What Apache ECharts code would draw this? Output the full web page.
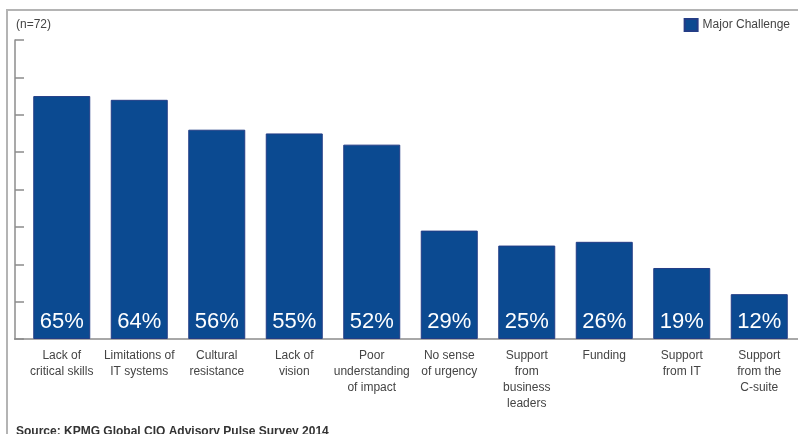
<!DOCTYPE html>
<html>
<head>
<meta charset="utf-8">
<script src="https://cdn.jsdelivr.net/npm/echarts@6/dist/echarts.min.js"></script>
<style>html,body{margin:0;padding:0;background:#fff;}#c{width:798px;height:434px;}</style>
</head>
<body>
<div id="c"></div>
<script>
var categories = ['Lack of\ncritical skills', 'Limitations of\nIT systems', 'Cultural\nresistance', 'Lack of\nvision', 'Poor\nunderstanding\nof impact', 'No sense\nof urgency', 'Support\nfrom\nbusiness\nleaders', 'Funding', 'Support\nfrom IT', 'Support\nfrom the\nC-suite'];
var majorChallenge = [65, 64, 56, 55, 52, 29, 25, 26, 19, 12];
var seriesName = 'Major Challenge';
var sampleNote = '(n=72)';
var sourceNote = 'Source: KPMG Global CIO Advisory Pulse Survey 2014';

var narrow = '"Liberation Sans Narrow", "Arial Narrow", "Liberation Sans", sans-serif';
var chart = echarts.init(document.getElementById('c'), null, {renderer: 'canvas'});
chart.setOption({
  animation: false,
  backgroundColor: '#ffffff',
  title: [
    {text: sampleNote, left: 11, top: 14, textStyle: {fontFamily: narrow, fontSize: 12, fontWeight: 'normal', color: '#444'}},
    {text: sourceNote, left: 11, top: 421, textStyle: {fontFamily: narrow, fontSize: 12, fontWeight: 'bold', color: '#333'}}
  ],
  legend: {
    data: [seriesName], right: 3, top: 13, itemWidth: 13, itemHeight: 12, itemGap: 6,
    icon: 'rect',
    textStyle: {fontFamily: narrow, fontSize: 12, color: '#444'}
  },
  grid: {left: 23, width: 780, top: 40, height: 299},
  xAxis: {
    type: 'category', data: categories,
    axisLine: {show: true, lineStyle: {color: '#8c8c8c', width: 1.5}},
    axisTick: {show: false},
    axisLabel: {interval: 0, margin: 9, fontFamily: narrow, fontSize: 12, lineHeight: 16, color: '#444', align: 'center'}
  },
  yAxis: {
    type: 'value', min: 0, max: 80, interval: 10, offset: 8,
    axisLine: {show: true, lineStyle: {color: '#8c8c8c', width: 1.5}},
    axisTick: {show: true, inside: true, length: 9, lineStyle: {color: '#8c8c8c', width: 1.5}},
    axisLabel: {show: false},
    splitLine: {show: false}
  },
  series: [{
    name: seriesName, type: 'bar', data: majorChallenge, barWidth: 57,
    itemStyle: {color: '#0b4a91', borderColor: '#233d86', borderWidth: 1},
    label: {show: true, position: 'insideBottom', distance: 6, formatter: '{c}%', color: '#ffffff',
      fontFamily: narrow, fontSize: 22, fontWeight: 'normal'}
  }],
  graphic: [
    {type: 'polyline', shape: {points: [[7, 434], [7, 10], [798, 10]]}, style: {stroke: '#b4b4b4', lineWidth: 2, fill: null}},
    {type: 'line', shape: {x1: 14, y1: 339, x2: 23, y2: 339}, style: {stroke: '#8c8c8c', lineWidth: 1.5}}
  ]
});
</script>
</body>
</html>
